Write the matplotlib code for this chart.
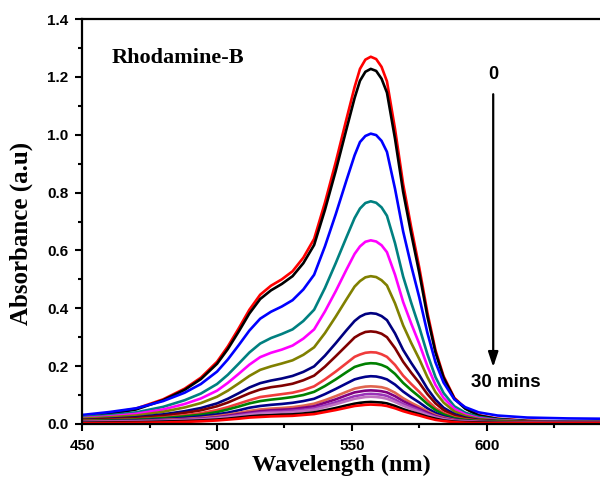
import matplotlib
matplotlib.use("Agg")
import matplotlib.pyplot as plt
from matplotlib.ticker import MultipleLocator

# wavelength grid (nm)
wl = [450, 460, 470, 480, 488, 494, 500, 504, 508, 512, 516, 520, 524, 528, 532, 536, 540, 544, 548,
      551, 553, 555, 557, 559, 561, 563, 566, 569, 572, 575, 578, 581, 584, 588, 592, 597, 604, 615,
      630, 642]

# absorbance spectra, 0 min -> 30 mins
a_red0 = [0.024, 0.037, 0.053, 0.085, 0.122, 0.160, 0.215, 0.268, 0.330, 0.395, 0.447, 0.478, 0.500,
          0.528, 0.575, 0.640, 0.765, 0.905, 1.055, 1.165, 1.228, 1.260, 1.270, 1.262, 1.235, 1.185,
          1.020, 0.830, 0.680, 0.540, 0.385, 0.255, 0.165, 0.090, 0.055, 0.030, 0.018, 0.011, 0.008, 0.008]
a_black0 = [0.018, 0.034, 0.050, 0.082, 0.118, 0.155, 0.208, 0.259, 0.319, 0.382, 0.432, 0.462, 0.484,
            0.511, 0.556, 0.619, 0.740, 0.875, 1.020, 1.127, 1.187, 1.218, 1.228, 1.221, 1.194, 1.146,
            0.986, 0.803, 0.658, 0.522, 0.372, 0.247, 0.160, 0.087, 0.053, 0.029, 0.017, 0.010, 0.007, 0.007]
a_blue = [0.031, 0.041, 0.054, 0.079, 0.108, 0.138, 0.181, 0.223, 0.272, 0.323, 0.364, 0.388, 0.406,
          0.428, 0.465, 0.516, 0.614, 0.725, 0.843, 0.929, 0.975, 0.996, 1.004, 0.999, 0.979, 0.941,
          0.813, 0.666, 0.547, 0.437, 0.315, 0.213, 0.143, 0.085, 0.058, 0.040, 0.029, 0.022, 0.019, 0.018]
a_teal = [0.023, 0.030, 0.040, 0.059, 0.082, 0.105, 0.138, 0.170, 0.208, 0.247, 0.278, 0.297, 0.311,
          0.327, 0.356, 0.395, 0.470, 0.556, 0.646, 0.712, 0.745, 0.764, 0.770, 0.765, 0.749, 0.720,
          0.625, 0.510, 0.419, 0.334, 0.241, 0.162, 0.107, 0.061, 0.039, 0.024, 0.015, 0.009, 0.007, 0.007]
a_magenta = [0.020, 0.026, 0.035, 0.050, 0.069, 0.088, 0.115, 0.142, 0.173, 0.205, 0.231, 0.246, 0.257,
             0.271, 0.295, 0.327, 0.389, 0.459, 0.534, 0.588, 0.614, 0.630, 0.635, 0.631, 0.618, 0.594,
             0.516, 0.422, 0.347, 0.277, 0.200, 0.135, 0.090, 0.052, 0.033, 0.020, 0.013, 0.008, 0.006, 0.006]
a_olive = [0.018, 0.023, 0.029, 0.042, 0.057, 0.072, 0.094, 0.115, 0.140, 0.166, 0.187, 0.199, 0.209,
           0.220, 0.239, 0.265, 0.314, 0.371, 0.431, 0.475, 0.494, 0.507, 0.511, 0.508, 0.497, 0.479,
           0.417, 0.341, 0.280, 0.224, 0.162, 0.110, 0.074, 0.043, 0.028, 0.017, 0.012, 0.008, 0.006, 0.006]
a_navy = [0.014, 0.018, 0.023, 0.033, 0.044, 0.055, 0.071, 0.087, 0.106, 0.126, 0.141, 0.150, 0.157,
          0.166, 0.180, 0.199, 0.236, 0.279, 0.324, 0.356, 0.371, 0.380, 0.383, 0.381, 0.373, 0.359,
          0.313, 0.256, 0.211, 0.169, 0.122, 0.084, 0.056, 0.034, 0.022, 0.014, 0.010, 0.007, 0.006, 0.005]
a_wine = [0.013, 0.016, 0.020, 0.028, 0.038, 0.047, 0.061, 0.074, 0.090, 0.106, 0.119, 0.127, 0.132,
          0.139, 0.151, 0.167, 0.198, 0.234, 0.271, 0.299, 0.310, 0.318, 0.320, 0.318, 0.312, 0.300,
          0.262, 0.215, 0.177, 0.142, 0.103, 0.071, 0.048, 0.029, 0.019, 0.012, 0.009, 0.007, 0.005, 0.005]
a_coral = [0.011, 0.013, 0.016, 0.022, 0.030, 0.037, 0.048, 0.058, 0.070, 0.082, 0.093, 0.098, 0.103,
           0.108, 0.117, 0.130, 0.154, 0.181, 0.210, 0.232, 0.240, 0.246, 0.248, 0.247, 0.241, 0.232,
           0.204, 0.167, 0.138, 0.111, 0.081, 0.055, 0.038, 0.023, 0.016, 0.011, 0.008, 0.006, 0.005, 0.005]
a_green = [0.010, 0.012, 0.015, 0.020, 0.026, 0.032, 0.041, 0.050, 0.060, 0.071, 0.079, 0.084, 0.088,
           0.093, 0.100, 0.111, 0.131, 0.154, 0.179, 0.197, 0.203, 0.208, 0.210, 0.209, 0.204, 0.196,
           0.173, 0.142, 0.117, 0.094, 0.069, 0.048, 0.033, 0.020, 0.014, 0.010, 0.008, 0.006, 0.005, 0.005]
a_navy2 = [0.008, 0.010, 0.012, 0.016, 0.021, 0.026, 0.033, 0.039, 0.047, 0.056, 0.062, 0.066, 0.069,
           0.073, 0.079, 0.087, 0.103, 0.121, 0.140, 0.154, 0.159, 0.163, 0.165, 0.164, 0.160, 0.154,
           0.136, 0.112, 0.092, 0.074, 0.054, 0.038, 0.026, 0.016, 0.011, 0.008, 0.006, 0.005, 0.004, 0.004]
a_salmon = [0.007, 0.009, 0.010, 0.014, 0.017, 0.021, 0.027, 0.032, 0.038, 0.045, 0.050, 0.053, 0.055,
            0.058, 0.063, 0.070, 0.082, 0.096, 0.111, 0.122, 0.126, 0.129, 0.130, 0.129, 0.127, 0.122,
            0.108, 0.089, 0.073, 0.059, 0.044, 0.031, 0.022, 0.014, 0.010, 0.007, 0.006, 0.005, 0.004, 0.004]
a_purple = [0.006, 0.007, 0.009, 0.012, 0.015, 0.018, 0.023, 0.028, 0.034, 0.039, 0.044, 0.047, 0.049,
            0.051, 0.056, 0.061, 0.073, 0.085, 0.099, 0.109, 0.112, 0.115, 0.116, 0.115, 0.113, 0.109,
            0.096, 0.079, 0.065, 0.052, 0.039, 0.027, 0.019, 0.012, 0.009, 0.006, 0.005, 0.004, 0.004, 0.004]
a_violet = [0.006, 0.007, 0.008, 0.011, 0.014, 0.017, 0.021, 0.025, 0.030, 0.035, 0.039, 0.042, 0.043,
            0.046, 0.049, 0.054, 0.064, 0.075, 0.087, 0.096, 0.099, 0.103, 0.104, 0.103, 0.101, 0.097,
            0.084, 0.069, 0.058, 0.047, 0.034, 0.024, 0.017, 0.011, 0.008, 0.006, 0.005, 0.004, 0.003, 0.003]
a_plum = [0.006, 0.007, 0.008, 0.010, 0.013, 0.015, 0.019, 0.023, 0.027, 0.032, 0.036, 0.038, 0.039,
          0.041, 0.045, 0.049, 0.058, 0.068, 0.079, 0.087, 0.090, 0.093, 0.094, 0.093, 0.091, 0.087,
          0.076, 0.063, 0.052, 0.042, 0.031, 0.022, 0.016, 0.010, 0.008, 0.006, 0.005, 0.004, 0.003, 0.003]
a_black30 = [0.004, 0.005, 0.006, 0.008, 0.010, 0.012, 0.015, 0.018, 0.022, 0.026, 0.029, 0.030, 0.032,
             0.033, 0.036, 0.040, 0.047, 0.055, 0.064, 0.070, 0.073, 0.075, 0.076, 0.075, 0.074, 0.071,
             0.062, 0.051, 0.042, 0.034, 0.025, 0.018, 0.012, 0.008, 0.006, 0.005, 0.004, 0.003, 0.003, 0.003]
a_red30 = [0.002, 0.003, 0.004, 0.005, 0.007, 0.009, 0.012, 0.015, 0.018, 0.022, 0.024, 0.026, 0.027,
           0.028, 0.031, 0.034, 0.041, 0.048, 0.056, 0.062, 0.064, 0.066, 0.067, 0.066, 0.065, 0.062,
           0.054, 0.044, 0.036, 0.029, 0.021, 0.014, 0.010, 0.006, 0.004, 0.003, 0.003, 0.003, 0.003, 0.003]

spectra = [a_red0, a_black0, a_blue, a_teal, a_magenta, a_olive, a_navy, a_wine, a_coral,
           a_green, a_navy2, a_salmon, a_purple, a_violet, a_plum, a_black30, a_red30]
colors = ['#ff0000', '#000000', '#0000ff', '#008080', '#ff00ff', '#808000', '#000080', '#800000',
          '#f03c3c', '#008000', '#00008b', '#e0654f', '#800080', '#9a33b8', '#c070c0', '#000000', '#ff0000']

fig = plt.figure(figsize=(6, 4.79), dpi=100)
ax = fig.add_axes([0.137, 0.115, 0.863, 0.845])

for y, c in zip(spectra, colors):
    ax.plot(wl, y, color=c, lw=1.9, solid_joinstyle='round')

ax.set_xlim(450, 642)
ax.set_ylim(0, 1.4)
ax.xaxis.set_major_locator(MultipleLocator(50))
ax.xaxis.set_minor_locator(MultipleLocator(25))
ax.yaxis.set_major_locator(MultipleLocator(0.2))
ax.yaxis.set_minor_locator(MultipleLocator(0.1))
ax.yaxis.set_major_formatter(plt.FormatStrFormatter('%.1f'))

for s in ['left', 'bottom', 'top']:
    ax.spines[s].set_linewidth(1.6)
ax.spines['right'].set_visible(False)
ax.tick_params(which='both', direction='out', width=1.5, top=False, right=False)
ax.tick_params(which='major', length=5)
ax.tick_params(which='minor', length=3)
ax.tick_params(axis='x', pad=6)
ax.tick_params(axis='y', pad=5)
for lab in ax.get_xticklabels() + ax.get_yticklabels():
    lab.set_fontfamily('Liberation Sans')
    lab.set_fontweight('bold')
    lab.set_fontsize(11)

ax.set_xlabel('Wavelength (nm)', family='Liberation Serif', fontweight='bold', fontsize=17.5, labelpad=1)
ax.set_ylabel('Absorbance (a.u)', family='Liberation Serif', fontweight='bold', fontsize=18)
ax.yaxis.set_label_coords(-0.095, 0.47)

ax.text(461, 1.266, 'Rhodamine-B', family='Liberation Serif', fontweight='bold', fontsize=16,
        va='center', ha='left')
ax.text(602.4, 1.207, '0', family='Liberation Sans', fontweight='bold', fontsize=13,
        va='center', ha='center')
ax.annotate('', xy=(602.4, 0.187), xytext=(602.4, 1.15),
            arrowprops=dict(arrowstyle='-|>,head_length=0.9,head_width=0.3', color='black', lw=1.6))
ax.text(607, 0.142, '30 mins', family='Liberation Sans', fontweight='bold', fontsize=13.5,
        va='center', ha='center')

fig.savefig('out.png', dpi=100)
